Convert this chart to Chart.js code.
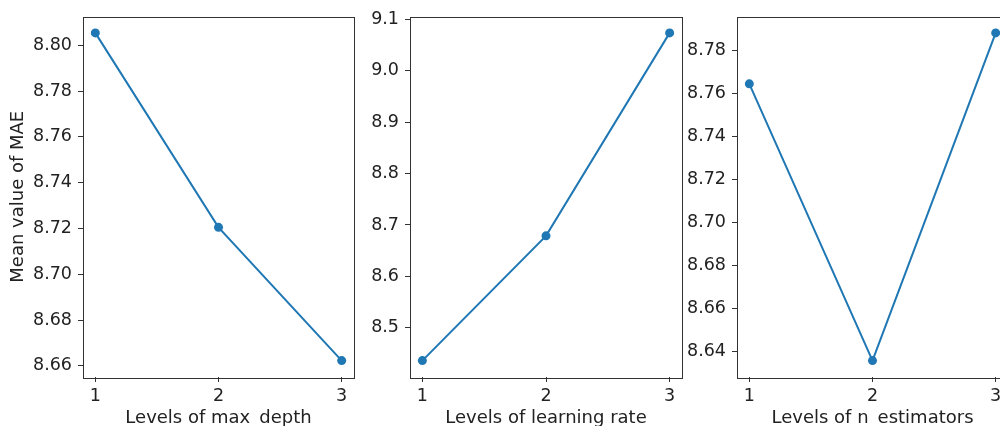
<!DOCTYPE html>
<html>
<head>
<meta charset="utf-8">
<script src="https://cdn.jsdelivr.net/npm/chart.js@4/dist/chart.umd.min.js"></script>
<style>
  html, body { margin: 0; padding: 0; background: #fff; }
  #wrap { position: relative; width: 1000px; height: 426px; overflow: hidden; }
  canvas { position: absolute; top: 0; }
</style>
</head>
<body>
<div id="wrap">
  <canvas id="c1" width="360" height="440" style="left:0px"></canvas>
  <canvas id="c2" width="330" height="440" style="left:360px"></canvas>
  <canvas id="c3" width="340" height="440" style="left:680px"></canvas>
</div>
<script>
// levels on the x axis
var levels = [1, 2, 3];

// mean MAE per level
var maxDepthMAE = [8.8054, 8.7205, 8.6623];
var learningRateMAE = [8.4359, 8.6788, 9.0740];
var nEstimatorsMAE = [8.7645, 8.6357, 8.7882];

// tick labels
var xTicks = [1, 2, 3];
var yTicks1 = [8.66, 8.68, 8.70, 8.72, 8.74, 8.76, 8.78, 8.80];
var yTicks2 = [8.5, 8.6, 8.7, 8.8, 8.9, 9.0, 9.1];
var yTicks3 = [8.64, 8.66, 8.68, 8.70, 8.72, 8.74, 8.76, 8.78];

var xLabels = ['Levels of max_depth', 'Levels of learning rate', 'Levels of n_estimators'];
var yLabel = 'Mean value of MAE';

var frame = {
    id: 'frame',
    afterDraw: function(chart) {
        var a = chart.chartArea, ctx = chart.ctx;
        ctx.save();
        ctx.strokeStyle = '#333';
        ctx.lineWidth = 1;
        ctx.strokeRect(Math.round(a.left) + 0.5, Math.round(a.top) + 0.5,
            Math.round(a.right - a.left), Math.round(a.bottom - a.top));
        ctx.restore();
    }
};

function makeChart(id, values, yTicks, dec, xTitle, showY, yWidth, padRight) {
    var lo = Math.min.apply(null, values), hi = Math.max.apply(null, values);
    var m = (hi - lo) * 0.05;
    var tickFont = { family: 'DejaVu Sans', size: 17.5 };
    var titleFont = { family: 'DejaVu Sans', size: 18 };
    return new Chart(document.getElementById(id).getContext('2d'), {
        type: 'line',
        data: {
            datasets: [{
                data: levels.map(function(l, i) { return { x: l, y: values[i] }; }),
                borderColor: '#1f77b4',
                backgroundColor: '#1f77b4',
                borderWidth: 2,
                pointRadius: 4.5,
                pointBorderWidth: 0,
                pointBackgroundColor: '#1f77b4',
                tension: 0
            }]
        },
        options: {
            responsive: false,
            animation: false,
            layout: { padding: { top: 16, right: padRight, bottom: 0, left: 0 } },
            plugins: { legend: { display: false }, tooltip: { enabled: false } },
            scales: {
                x: {
                    type: 'linear',
                    min: 0.9,
                    max: 3.1,
                    afterBuildTicks: function(s) { s.ticks = xTicks.map(function(v) { return { value: v }; }); },
                    afterFit: function(s) { s.height = 63; },
                    grid: { display: true, drawOnChartArea: false, drawTicks: true, tickLength: 5, color: '#333', tickColor: '#333' },
                    border: { display: false },
                    ticks: { color: '#222', font: tickFont, padding: 4, maxRotation: 0,
                        callback: function(v) { return String(v); } },
                    title: { display: true, text: xTitle, color: '#222', font: titleFont, padding: { top: 0, bottom: 11 } }
                },
                y: {
                    type: 'linear',
                    min: lo - m,
                    max: hi + m,
                    afterBuildTicks: function(s) { s.ticks = yTicks.map(function(v) { return { value: v }; }); },
                    afterFit: function(s) { s.width = yWidth; },
                    grid: { display: true, drawOnChartArea: false, drawTicks: true, tickLength: 5, color: '#333', tickColor: '#333' },
                    border: { display: false },
                    ticks: { color: '#222', font: tickFont, padding: 6,
                        callback: function(v) { return Number(v).toFixed(dec); } },
                    title: { display: showY, text: yLabel, color: '#222', font: titleFont, padding: { top: 8, bottom: 0 } }
                }
            }
        },
        plugins: [frame]
    });
}

makeChart('c1', maxDepthMAE, yTicks1, 2, xLabels[0], true, 83, 6);
makeChart('c2', learningRateMAE, yTicks2, 1, xLabels[1], false, 50, 8);
makeChart('c3', nEstimatorsMAE, yTicks3, 2, xLabels[2], false, 57, 12);
</script>
</body>
</html>
